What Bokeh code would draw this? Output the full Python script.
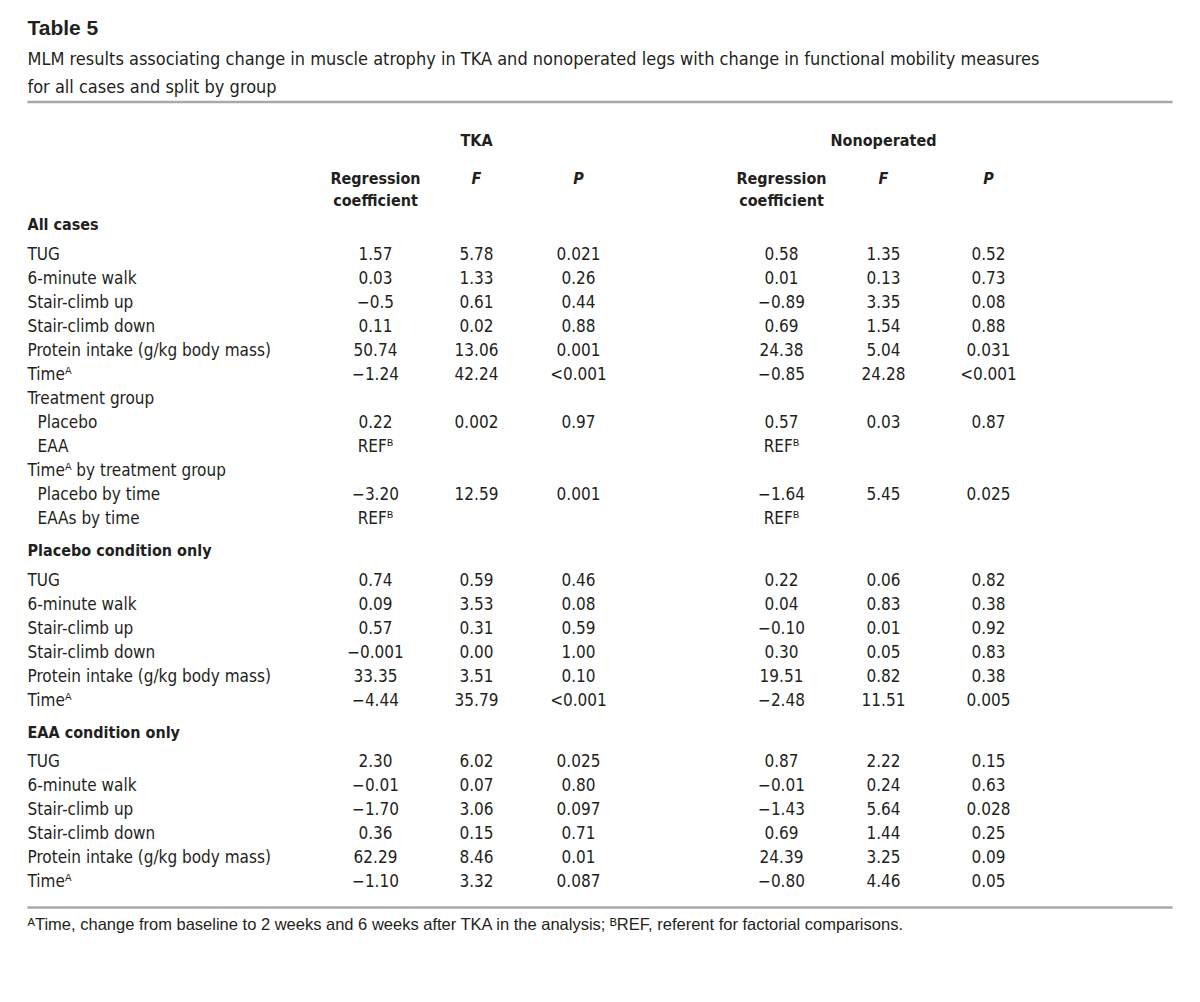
from bokeh.plotting import figure
from bokeh.models import Range1d, ColumnDataSource
from bokeh.core.properties import value
from bokeh.embed import file_html
from bokeh.resources import INLINE

# ---------------- data ----------------
title = "Table 5"
subtitle = [
    "MLM results associating change in muscle atrophy in TKA and nonoperated legs with change in functional mobility measures",
    "for all cases and split by group",
]
group_headers = ["TKA", "Nonoperated"]
col_headers = [["Regression", "coefficient"], ["F"], ["P"]]
section_titles = ["All cases", "Placebo condition only", "EAA condition only"]

SUP_A, SUP_B = "\u1d2c", "\u1d2e"
all_labels = ["TUG", "6-minute walk", "Stair-climb up", "Stair-climb down",
              "Protein intake (g/kg body mass)", "Time" + SUP_A, "Treatment group",
              "Placebo", "EAA", "Time" + SUP_A + " by treatment group", "Placebo by time", "EAAs by time"]
all_indent = [0, 0, 0, 0, 0, 0, 0, 1, 1, 0, 1, 1]
REF = "REF" + SUP_B
all_tka_coef = ["1.57", "0.03", "\u22120.5", "0.11", "50.74", "\u22121.24", "", "0.22", REF, "", "\u22123.20", REF]
all_tka_f = ["5.78", "1.33", "0.61", "0.02", "13.06", "42.24", "", "0.002", "", "", "12.59", ""]
all_tka_p = ["0.021", "0.26", "0.44", "0.88", "0.001", "<0.001", "", "0.97", "", "", "0.001", ""]
all_non_coef = ["0.58", "0.01", "\u22120.89", "0.69", "24.38", "\u22120.85", "", "0.57", REF, "", "\u22121.64", REF]
all_non_f = ["1.35", "0.13", "3.35", "1.54", "5.04", "24.28", "", "0.03", "", "", "5.45", ""]
all_non_p = ["0.52", "0.73", "0.08", "0.88", "0.031", "<0.001", "", "0.87", "", "", "0.025", ""]

sub_labels = ["TUG", "6-minute walk", "Stair-climb up", "Stair-climb down",
              "Protein intake (g/kg body mass)", "Time" + SUP_A]
sub_indent = [0, 0, 0, 0, 0, 0]

plc_tka_coef = ["0.74", "0.09", "0.57", "\u22120.001", "33.35", "\u22124.44"]
plc_tka_f = ["0.59", "3.53", "0.31", "0.00", "3.51", "35.79"]
plc_tka_p = ["0.46", "0.08", "0.59", "1.00", "0.10", "<0.001"]
plc_non_coef = ["0.22", "0.04", "\u22120.10", "0.30", "19.51", "\u22122.48"]
plc_non_f = ["0.06", "0.83", "0.01", "0.05", "0.82", "11.51"]
plc_non_p = ["0.82", "0.38", "0.92", "0.83", "0.38", "0.005"]

eaa_tka_coef = ["2.30", "\u22120.01", "\u22121.70", "0.36", "62.29", "\u22121.10"]
eaa_tka_f = ["6.02", "0.07", "3.06", "0.15", "8.46", "3.32"]
eaa_tka_p = ["0.025", "0.80", "0.097", "0.71", "0.01", "0.087"]
eaa_non_coef = ["0.87", "\u22120.01", "\u22121.43", "0.69", "24.39", "\u22120.80"]
eaa_non_f = ["2.22", "0.24", "5.64", "1.44", "3.25", "4.46"]
eaa_non_p = ["0.15", "0.63", "0.028", "0.25", "0.09", "0.05"]

footnote = (SUP_A + "Time, change from baseline to 2 weeks and 6 weeks after TKA in the analysis; "
            + SUP_B + "REF, referent for factorial comparisons.")

sections = [
    (all_labels, all_indent, [all_tka_coef, all_tka_f, all_tka_p, all_non_coef, all_non_f, all_non_p]),
    (sub_labels, sub_indent, [plc_tka_coef, plc_tka_f, plc_tka_p, plc_non_coef, plc_non_f, plc_non_p]),
    (sub_labels, sub_indent, [eaa_tka_coef, eaa_tka_f, eaa_tka_p, eaa_non_coef, eaa_non_f, eaa_non_p]),
]

# ---------------- layout ----------------
W, H = 1184, 986
INK = "#231f20"
RULE = "#a8a8a8"
NARROW = "DejaVu Sans Condensed, DejaVu Sans"
REG = "Liberation Sans"
DATA_PX = 17

p = figure(width=W, height=H, output_backend="svg", toolbar_location=None,
           x_range=Range1d(0, W), y_range=Range1d(H, 0), min_border=0)
p.axis.visible = False
p.grid.visible = False
p.outline_line_color = None
p.background_fill_color = "white"

texts = []
def add(x, y, t, size, font=NARROW, style="normal", align="left"):
    texts.append(dict(x=x, y=y, t=t, size=f"{size}px", font=font, style=style, align=align))

LEFT = 27
add(LEFT, 27, title, 21, font=REG, style="bold")
add(LEFT, 58, subtitle[0], 18)
add(LEFT, 86, subtitle[1], 18)

col_x = [375, 476, 578, 781, 883, 988]
group_x = [476, 883]
for gx, g in zip(group_x, group_headers):
    add(gx, 140, g, 16, style="bold", align="center")
for k in range(2):
    for j, hdr in enumerate(col_headers):
        cx = col_x[k * 3 + j]
        st = "bold" if len(hdr) > 1 else "bold italic"
        for li, line in enumerate(hdr):
            add(cx, 178 + li * 22, line, 16, style=st, align="center")

sec_title_y = [224, 550, 732]
first_row_gap = [29, 29, 28]
ROW = 24
for (labels, indent, cols), sy, gap, st in zip(sections, sec_title_y, first_row_gap, section_titles):
    add(LEFT, sy, st, 16, style="bold")
    for i, lab in enumerate(labels):
        y = sy + gap + i * ROW
        add(LEFT + 10 * indent[i], y, lab, DATA_PX)
        for cx, col in zip(col_x, cols):
            if col[i]:
                add(cx, y, col[i], DATA_PX, align="center")

add(LEFT, 923, footnote, 16.5, font=REG)

groups = {}
for t in texts:
    groups.setdefault((t["font"], t["style"], t["align"]), []).append(t)
for (font, style, align), items in groups.items():
    src = ColumnDataSource(dict(x=[i["x"] for i in items], y=[i["y"] for i in items],
                                t=[i["t"] for i in items], size=[i["size"] for i in items]))
    p.text(x="x", y="y", text="t", source=src, text_font=value(font),
           text_font_size="size", text_font_style=style, text_align=align,
           text_baseline="middle", text_color=INK)

p.segment(x0=[LEFT, LEFT], x1=[1172, 1172], y0=[101.5, 907], y1=[101.5, 907],
          line_color=RULE, line_width=2.5)

open("out.html", "w").write(file_html(p, INLINE))
